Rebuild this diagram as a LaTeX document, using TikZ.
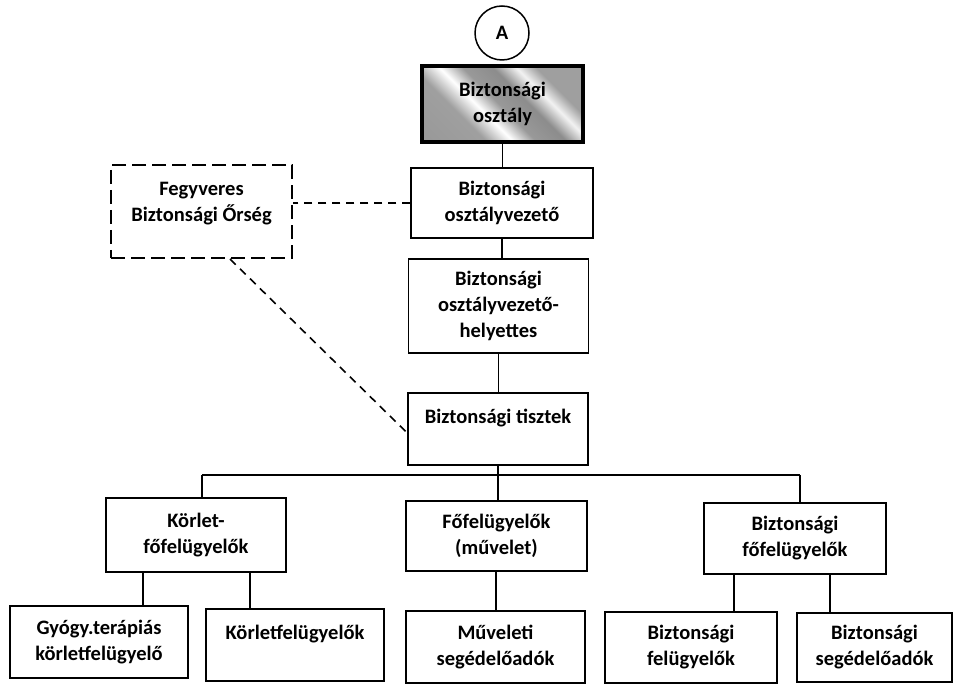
\documentclass[tikz,border=0pt]{standalone}
\usepackage{fontspec}
\setmainfont{Carlito}
\pgfdeclarehorizontalshading{bandshade}{100bp}{%
  color(0bp)=(gray!85);
  color(34bp)=(gray!75);
  color(42bp)=(white);
  color(49bp)=(gray!80);
  color(58bp)=(gray!90);
  color(65bp)=(white!90!gray);
  color(71bp)=(gray!75);
  color(100bp)=(gray!75)}
\begin{document}
\begin{tikzpicture}[x=1pt,y=-1pt,
  every node/.style={font=\bfseries\fontsize{20.5}{26}\selectfont},
  box/.style={draw, line width=1.5pt, rectangle, align=center, inner sep=2pt},
  wh/.style 2 args={minimum width=#1pt, minimum height=#2pt},
  dashbox/.style={box, line width=2pt, dash pattern=on 14pt off 6pt},
  link/.style={line width=1.4pt},
  dlink/.style={line width=1.6pt, dash pattern=on 8pt off 6pt}]
\useasboundingbox (0,0) rectangle (954,684);

% top of the chart
\node[draw, circle, line width=1.5pt, minimum size=54pt, inner sep=0pt] (circA) at (502,33) {A};
\node[box, wh={161}{76}, line width=4pt, shade, shading=bandshade, shading angle=45] (dept) at (502.5,104) {Biztonsági\\osztály};
\node[box, wh={182}{70}] (head) at (502,203) {Biztonsági\\osztályvezető};
\node[dashbox, wh={181}{93}] (guard) at (201.5,211.5) {Fegyveres\\Biztonsági Őrség\\[-6pt]\mbox{}};
\node[box, wh={180}{94}] (deputy) at (498.5,306) {Biztonsági\\osztályvezető-\\helyettes};
\node[box, wh={180}{72}] (officers) at (498,429) {Biztonsági tisztek\\\mbox{}};

% second level
\node[box, wh={180}{74}] (korfo) at (196,535) {Körlet-\\főfelügyelők};
\node[box, wh={181}{70}] (muvfo) at (496.5,536) {Főfelügyelők\\(művelet)};
\node[box, wh={182}{71}] (bizfo) at (795,538.5) {Biztonsági\\főfelügyelők};

% third level
\node[box, wh={178}{72}] (gyogy) at (99,642) {Gyógy.terápiás\\körletfelügyelő};
\node[box, wh={178}{72}] (korfel) at (295,645) {Körletfelügyelők\\\mbox{}};
\node[box, wh={179}{72}] (muvseg) at (495.5,647) {Műveleti\\segédelőadók};
\node[box, wh={172}{71}] (bizfel) at (691,647.5) {Biztonsági\\felügyelők};
\node[box, wh={155}{69}] (bizseg) at (874.5,647.5) {Biztonsági\\segédelőadók};

% vertical chain
\draw[link] (dept.south) -- (dept.south |- head.north);
\draw[link] (head.south) -- (head.south |- deputy.north);
\draw[link] (deputy.south) -- (deputy.south |- officers.north);

% dashed relations of the guard
\draw[dlink] (head.west) -- (head.west -| guard.east);
\coordinate (gd) at (230,0);
\draw[dlink] (gd |- guard.south) -- ([yshift=-4pt]officers.west);

% distribution bus
\coordinate (busL) at (202,475);
\coordinate (busR) at (800,475);
\draw[link] (busL) -- (busR);
\draw[link] (busL) -- (busL |- korfo.north);
\draw[link] (busR) -- (busR |- bizfo.north);
\draw[link] (officers.south) -- (officers.south |- muvfo.north);

% lower connectors
\coordinate (c1) at (143,0);
\coordinate (c2) at (250,0);
\coordinate (c3) at (496,0);
\coordinate (c4) at (734,0);
\coordinate (c5) at (830,0);
\draw[link] (c1 |- korfo.south) -- (c1 |- gyogy.north);
\draw[link] (c2 |- korfo.south) -- (c2 |- korfel.north);
\draw[link] (c3 |- muvfo.south) -- (c3 |- muvseg.north);
\draw[link] (c4 |- bizfo.south) -- (c4 |- bizfel.north);
\draw[link] (c5 |- bizfo.south) -- (c5 |- bizseg.north);
\end{tikzpicture}
\end{document}
